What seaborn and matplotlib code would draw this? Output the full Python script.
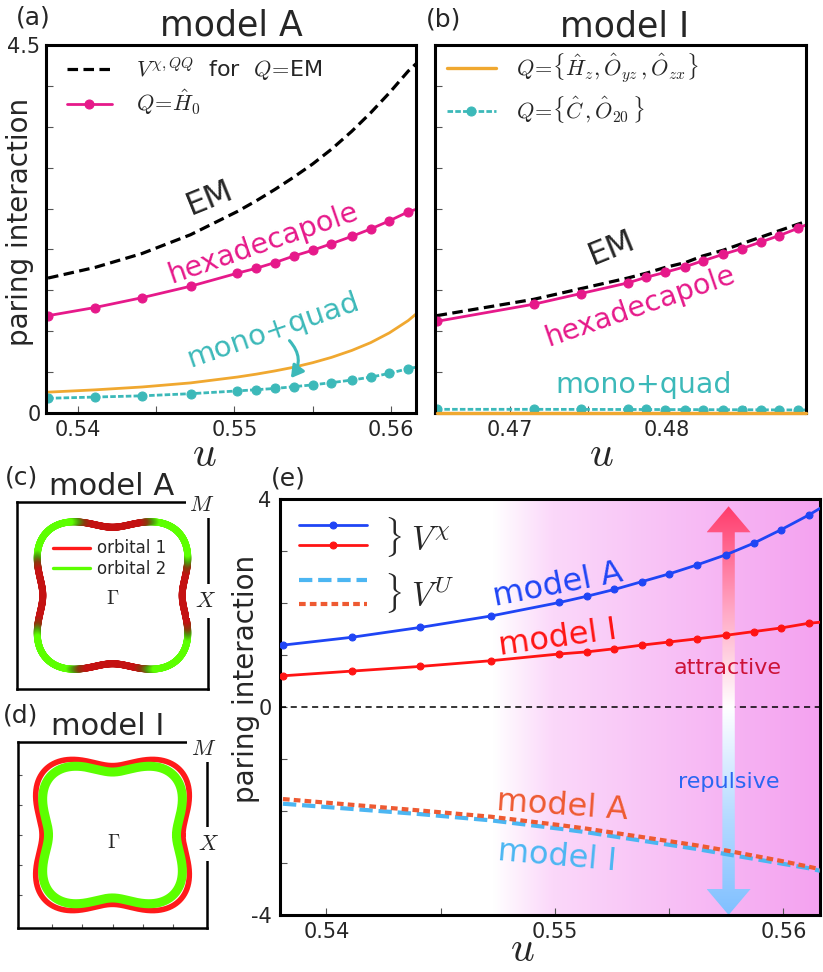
import numpy as np
import matplotlib
matplotlib.use("Agg")
import matplotlib.pyplot as plt
import seaborn as sns
from matplotlib.collections import LineCollection
from matplotlib.colors import LinearSegmentedColormap
from matplotlib.lines import Line2D
from matplotlib.patches import Polygon

# ---------------- data ----------------
# panel (a) / (e) : model A, u grid (last value = right edge of the axes)
u_A = [0.5381, 0.5411, 0.5441, 0.5472, 0.5502, 0.5514, 0.5526, 0.5538,
       0.5550, 0.5562, 0.5575, 0.5587, 0.5599, 0.5611, 0.5616]
em_A = [1.65, 1.78, 1.95, 2.18, 2.465, 2.595, 2.735, 2.885, 3.045, 3.225,
        3.445, 3.67, 3.915, 4.18, 4.27]
hexa_A = [1.19, 1.29, 1.41, 1.55, 1.71, 1.77, 1.84, 1.92, 1.99, 2.07, 2.16,
          2.25, 2.35, 2.46, 2.49]
hz_A = [0.255, 0.283, 0.318, 0.368, 0.44, 0.475, 0.515, 0.56, 0.615, 0.68,
        0.765, 0.86, 0.98, 1.13, 1.21]
monoquad_A = [0.18, 0.195, 0.21, 0.236, 0.27, 0.285, 0.30, 0.322, 0.344,
              0.371, 0.403, 0.438, 0.485, 0.542, 0.56]

# panel (b) : model I
u_I = [0.4653, 0.4715, 0.4745, 0.4775, 0.4787, 0.4799, 0.4812, 0.4823,
       0.4836, 0.4848, 0.4860, 0.4872, 0.4884, 0.4889]
em_I = [1.19, 1.39, 1.52, 1.65, 1.71, 1.78, 1.84, 1.92, 1.99, 2.07, 2.15,
        2.23, 2.31, 2.34]
hexa_I = [1.12, 1.33, 1.46, 1.59, 1.66, 1.72, 1.79, 1.86, 1.94, 2.01, 2.09,
          2.17, 2.26, 2.30]
hz_I = [0.0, 0.0, 0.0, 0.0, 0.0, 0.0, 0.0, 0.0, 0.0, 0.0, 0.0, 0.0, 0.0, 0.0]
monoquad_I = [0.045, 0.045, 0.044, 0.043, 0.043, 0.042, 0.042, 0.041, 0.040,
              0.040, 0.039, 0.038, 0.037, 0.037]

# panel (e)
vchi_A = [1.19, 1.34, 1.53, 1.75, 2.01, 2.13, 2.26, 2.41, 2.56, 2.73, 2.93,
          3.15, 3.41, 3.69, 3.82]
vchi_I = [0.60, 0.69, 0.78, 0.89, 1.02, 1.06, 1.12, 1.19, 1.25, 1.31, 1.38,
          1.45, 1.52, 1.61, 1.63]
vU_A = [-1.77, -1.88, -1.99, -2.11, -2.27, -2.34, -2.42, -2.50, -2.58, -2.66,
        -2.76, -2.86, -2.96, -3.07, -3.12]
vU_I = [-1.86, -1.96, -2.06, -2.18, -2.34, -2.41, -2.49, -2.57, -2.65, -2.73,
        -2.83, -2.92, -3.01, -3.10, -3.15]

xlim_A = (0.53797, 0.5616)
xlim_I = (0.4652, 0.4889)
bg_start = 0.5473      # pink shading starts here
u_arrow = 0.5576       # attractive / repulsive arrow
arrow_top = 3.86

# Fermi surface shapes r(theta) = R0 + R4 cos4t + R8 cos8t (units of half BZ)
fs_A = [0.848, -0.118, 0.0]
fs_I_outer = [0.873, -0.127, 0.0]
fs_I_inner = [0.7935, -0.1165, 0.0]
red_core_deg, green_start_deg = 18, 30

MAGENTA = "#e6198a"
TEAL = "#3cb9b9"
ORANGE = "#f0a830"
BLUE = "#1f45f5"
RED = "#ff1414"
LBLUE = "#4cb6f2"
ORED = "#ee5a32"

# ---------------- figure ----------------
sns.set_theme(style="ticks")
plt.rcParams["font.family"] = ["DejaVu Sans"]
plt.rcParams["mathtext.fontset"] = "cm"
plt.rcParams["axes.linewidth"] = 2.2

W, H = 823, 972
fig = plt.figure(figsize=(W / 100, H / 100), dpi=100)


def rect(l, t, r, b):
    return [l / W, 1 - b / H, (r - l) / W, (b - t) / H]


def ftext(x, y, s, **kw):
    return fig.text(x / W, 1 - y / H, s, **kw)


def style_axes(ax, lw=2.2):
    for sp in ax.spines.values():
        sp.set_visible(True)
        sp.set_color("black")
        sp.set_linewidth(lw)
    ax.tick_params(which="both", direction="in", color="#555555", width=0.8,
                   labelsize=15, top=False, right=False)
    ax.tick_params(which="major", length=5)
    ax.tick_params(which="minor", length=5)
    ax.set_xlabel("")
    ax.set_ylabel("")


ax_a = fig.add_axes(rect(46, 45, 416, 413))
ax_b = fig.add_axes(rect(435, 45, 806, 413))
ax_c = fig.add_axes(rect(17, 502, 208, 689))
ax_d = fig.add_axes(rect(18, 742, 207, 928))
ax_e = fig.add_axes(rect(280, 499, 820, 915))

# ---------------- (a) ----------------
sns.lineplot(x=u_A, y=em_A, ax=ax_a, color="black", lw=2.3,
             label=r"$V^{\chi,QQ}$  for  $Q\!=\!$EM")
ax_a.lines[-1].set_dashes([3.3, 1.7])
sns.lineplot(x=u_A, y=hexa_A, ax=ax_a, color=MAGENTA, lw=2.0, marker="o",
             ms=6.5, markeredgecolor=MAGENTA, markevery=slice(0, 14),
             label=r"$Q\!=\!\hat{H}_0$")
sns.lineplot(x=u_A, y=hz_A, ax=ax_a, color=ORANGE, lw=2.0)
sns.lineplot(x=u_A, y=monoquad_A, ax=ax_a, color=TEAL, lw=2.0, marker="o",
             ms=6.5, markeredgecolor=TEAL, markevery=slice(0, 14))
ax_a.lines[-1].set_dashes([2.0, 0.8])
ax_a.set_xlim(*xlim_A)
ax_a.set_ylim(0, 4.5)
style_axes(ax_a)
ax_a.set_xticks([0.54, 0.55, 0.56])
ax_a.set_xticks([0.545, 0.555], minor=True)
ax_a.set_xticklabels(["0.54", "0.55", "0.56"])
ax_a.set_yticks(np.arange(0, 4.51, 0.5))
ax_a.set_yticklabels(["0"] + [""] * 8 + ["4.5"])
ax_a.tick_params(axis="x", pad=5)
ax_a.tick_params(axis="y", pad=4)
ax_a.legend(loc="upper left", bbox_to_anchor=(0.045, 0.985), frameon=False,
            fontsize=16, handlelength=2.0, handletextpad=1.1,
            labelspacing=0.25, borderpad=0.2, borderaxespad=0)

# ---------------- (b) ----------------
sns.lineplot(x=u_I, y=em_I, ax=ax_b, color="black", lw=2.3)
ax_b.lines[-1].set_dashes([3.3, 1.7])
sns.lineplot(x=u_I, y=hexa_I, ax=ax_b, color=MAGENTA, lw=2.0, marker="o",
             ms=6.5, markeredgecolor=MAGENTA, markevery=slice(0, 13))
sns.lineplot(x=u_I, y=hz_I, ax=ax_b, color=ORANGE, lw=2.4, clip_on=False,
             zorder=5,
             label=r"$Q\!=\!\{\hat{H}_z,\hat{O}_{yz}\,,\hat{O}_{zx}\}$")
sns.lineplot(x=u_I, y=monoquad_I, ax=ax_b, color=TEAL, lw=2.0, marker="o",
             ms=6.5, markeredgecolor=TEAL, markevery=slice(0, 13),
             label=r"$Q\!=\!\{\hat{C}\,,\hat{O}_{20}\,\}$")
ax_b.lines[-1].set_dashes([2.0, 0.8])
ax_b.set_xlim(*xlim_I)
ax_b.set_ylim(0, 4.5)
style_axes(ax_b)
ax_b.set_xticks([0.47, 0.48])
ax_b.set_xticks([0.475, 0.485], minor=True)
ax_b.set_xticklabels(["0.47", "0.48"])
ax_b.set_yticks(np.arange(0, 4.51, 0.5))
ax_b.set_yticklabels([])
ax_b.tick_params(axis="x", pad=5)
ax_b.legend(loc="upper left", bbox_to_anchor=(0.02, 0.995), frameon=False,
            fontsize=16, handlelength=2.2, handletextpad=0.9,
            labelspacing=0.45, borderpad=0.2, borderaxespad=0)

# ---------------- (c) / (d) Fermi surfaces ----------------
theta = np.linspace(0, 2 * np.pi, 1441)


def fs_xy(p):
    r = p[0] + p[1] * np.cos(4 * theta) + p[2] * np.cos(8 * theta)
    return r * np.cos(theta), r * np.sin(theta)


orb_cmap = LinearSegmentedColormap.from_list(
    "orb", [(0, "#5cff00"), (0.35, "#4f9a0c"), (0.65, "#8a3a0c"), (1, "#c41212")])
xc, yc = fs_xy(fs_A)
c2 = np.abs(np.cos(2 * theta))
w = np.clip((c2 - np.cos(np.radians(2 * green_start_deg)))
            / (np.cos(np.radians(2 * red_core_deg))
               - np.cos(np.radians(2 * green_start_deg))), 0, 1)
pts = np.column_stack([xc, yc])
segs = np.stack([pts[:-1], pts[1:]], axis=1)
lc = LineCollection(segs, colors=orb_cmap(0.5 * (w[:-1] + w[1:])),
                    linewidths=5.0, capstyle="round")
ax_c.add_collection(lc)
ax_c.legend(handles=[Line2D([], [], color="#ff1a1a", lw=2.4),
                     Line2D([], [], color="#5cff00", lw=2.4)],
            labels=["orbital 1", "orbital 2"], loc="upper left",
            bbox_to_anchor=(0.19, 0.8), frameon=False, fontsize=12,
            handlelength=2.2, handletextpad=0.45, labelspacing=0.15,
            borderpad=0, borderaxespad=0)

xo, yo = fs_xy(fs_I_outer)
xi, yi = fs_xy(fs_I_inner)
ax_d.plot(xo, yo, color="#ff1a1a", lw=4.0)
ax_d.plot(xi, yi, color="#5cff00", lw=6.5)

for ax in (ax_c, ax_d):
    ax.set_xlim(-1, 1)
    ax.set_ylim(-1, 1)
    style_axes(ax, lw=1.8)
ax_c.set_xticks([])
ax_c.set_yticks([])
ax_d.set_xticks([-0.64, -0.32, 0, 0.32, 0.64])
ax_d.set_yticks([-0.64, -0.32, 0, 0.32, 0.64])
ax_d.tick_params(length=3, labelbottom=False, labelleft=False)

wbox = dict(boxstyle="square,pad=0.15", fc="white", ec="none")
for (mx, my), (xx, xy_) in (((201.7, 505), (205.7, 601)),
                              ((203.3, 749), (208.3, 844))):
    ftext(mx, my, r"$M$", fontsize=16, ha="center", va="center", bbox=wbox,
          zorder=10)
    ftext(xx, xy_, r"$X$", fontsize=16, ha="center", va="center",
          bbox=dict(boxstyle="square,pad=0.3", fc="white", ec="none"),
          zorder=10)
ftext(112.7, 598, r"$\Gamma$", fontsize=14, ha="center", va="center")
ftext(113.3, 843, r"$\Gamma$", fontsize=14, ha="center", va="center")

# ---------------- (e) ----------------
u_left, u_right = xlim_A
bg_cmap = LinearSegmentedColormap.from_list(
    "bg", [(0, "#ffffff"), (0.18, "#fbd8fa"), (1, "#f4a2f0")])
ax_e.imshow(np.linspace(0, 1, 256)[None, :], extent=[bg_start, u_right, -4, 4],
            aspect="auto", cmap=bg_cmap, zorder=0, interpolation="bicubic")
ax_e.axhline(0, color="black", lw=1.1, ls=(0, (4, 3)), zorder=1)

# double arrow with vertical gradient
u_per_px = (u_right - u_left) / 540
v_per_px = 8 / 416
sw, hw, hl = 6.2 * u_per_px, 22 * u_per_px, 26 * v_per_px
ua, yb = u_arrow, -4.0
arrow = Polygon([(ua, arrow_top), (ua + hw, arrow_top - hl), (ua + sw, arrow_top - hl),
                 (ua + sw, yb + hl), (ua + hw, yb + hl), (ua, yb),
                 (ua - hw, yb + hl), (ua - sw, yb + hl), (ua - sw, arrow_top - hl),
                 (ua - hw, arrow_top - hl)], closed=True, fc="none", ec="none")
ax_e.add_patch(arrow)
z0 = 4 / (arrow_top + 4)
arr_cmap = LinearSegmentedColormap.from_list(
    "arr", [(0, "#80c0ff"), (0.25, "#b8dcff"), (z0, "#ffffff"),
            (0.75, "#ffa6c4"), (1, "#ff3c6c")])
im = ax_e.imshow(np.linspace(0, 1, 256)[:, None], origin="lower",
                 extent=[ua - hw, ua + hw, yb, arrow_top], aspect="auto",
                 cmap=arr_cmap, zorder=2)
im.set_clip_path(arrow)

l1 = sns.lineplot(x=u_A, y=vU_I, ax=ax_e, color=LBLUE, lw=3.0, zorder=3).lines[-1]
l1.set_dashes([3.2, 1.4])
l2 = sns.lineplot(x=u_A, y=vU_A, ax=ax_e, color=ORED, lw=3.0, zorder=3).lines[-1]
l2.set_dashes([1.6, 1.0])
l3 = sns.lineplot(x=u_A, y=vchi_A, ax=ax_e, color=BLUE, lw=2.0, marker="o",
                  ms=5, markeredgecolor=BLUE, markevery=slice(0, 14),
                  zorder=4).lines[-1]
l4 = sns.lineplot(x=u_A, y=vchi_I, ax=ax_e, color=RED, lw=2.0, marker="o",
                  ms=5, markeredgecolor=RED, markevery=slice(0, 14),
                  zorder=4).lines[-1]
if ax_e.get_legend() is not None:
    ax_e.get_legend().remove()

ax_e.set_xlim(u_left, u_right)
ax_e.set_ylim(-4, 4)
style_axes(ax_e)
ax_e.set_xticks([0.54, 0.55, 0.56])
ax_e.set_xticks([0.545, 0.555], minor=True)
ax_e.set_xticklabels(["0.54", "0.55", "0.56"])
ax_e.set_yticks(np.arange(-4, 4.1, 1))
ax_e.set_yticklabels(["-4", "", "", "", "0", "", "", "", "4"])
ax_e.tick_params(axis="x", pad=5)
ax_e.tick_params(axis="y", pad=6)

leg1 = ax_e.legend(handles=[l3, l4], labels=[" ", " "], loc="upper left",
                   bbox_to_anchor=(0.035, 0.958), frameon=False, fontsize=12,
                   handlelength=4.1, handletextpad=0, labelspacing=0.16,
                   borderpad=0, borderaxespad=0)
ax_e.add_artist(leg1)
ax_e.legend(handles=[l1, l2], labels=[" ", " "], loc="upper left",
            bbox_to_anchor=(0.035, 0.824), frameon=False, fontsize=12,
            handlelength=4.1, handletextpad=0, labelspacing=0.34,
            borderpad=0, borderaxespad=0)
ftext(384, 537, r"$\}\;V^{\chi}$", fontsize=24, ha="left", va="center")
ftext(384, 593, r"$\}\;V^{U}$", fontsize=24, ha="left", va="center")

# ---------------- annotations ----------------
ftext(33, 17, "(a)", fontsize=18, ha="center", va="center")
ftext(231, 35, "model A", fontsize=25, ha="center", va="baseline")
ftext(444, 20, "(b)", fontsize=18, ha="center", va="center")
ftext(625, 36.5, "model I", fontsize=25, ha="center", va="baseline")
ftext(21.5, 477, "(c)", fontsize=18, ha="center", va="center")
ftext(111.7, 495, "model A", fontsize=22, ha="center", va="baseline")
ftext(21, 716, "(d)", fontsize=18, ha="center", va="center")
ftext(108, 735, "model I", fontsize=22, ha="center", va="baseline")
ftext(288, 478, "(e)", fontsize=18, ha="center", va="center")

ftext(20, 222, "paring interaction", fontsize=20, rotation=90,
      ha="center", va="center")
ftext(246, 679, "paring interaction", fontsize=20, rotation=90,
      ha="center", va="center")
ftext(204, 466, r"$u$", fontsize=30, ha="center", va="baseline")
ftext(601, 466, r"$u$", fontsize=30, ha="center", va="baseline")
ftext(522, 961, r"$u$", fontsize=30, ha="center", va="baseline")

ftext(210, 198, "EM", fontsize=23, rotation=22, ha="center", va="center")
ftext(263, 243, "hexadecapole", fontsize=20.5, rotation=19, color=MAGENTA,
      ha="center", va="center")
ftext(273, 330, "mono+quad", fontsize=21, rotation=19, color=TEAL,
      ha="center", va="center")
ax_a.annotate("", xy=(0.5535, 0.40), xytext=(0.5534, 0.91),
              arrowprops=dict(arrowstyle="-|>,head_width=0.35,head_length=0.6",
                              color=TEAL, lw=2.2,
                              connectionstyle="arc3,rad=-0.45"))
ftext(612, 248, "EM", fontsize=23, rotation=22, ha="center", va="center")
ftext(640, 306, "hexadecapole", fontsize=20.5, rotation=19, color=MAGENTA,
      ha="center", va="center")
ftext(644, 385, "mono+quad", fontsize=20.5, color=TEAL, ha="center",
      va="center")

ftext(558, 585, "model A", fontsize=23, rotation=11, color=BLUE,
      ha="center", va="center")
ftext(558, 638, "model I", fontsize=23, rotation=8, color=RED,
      ha="center", va="center")
ftext(562, 806, "model A", fontsize=23, rotation=-4, color=ORED,
      ha="center", va="center")
ftext(557, 857, "model I", fontsize=23, rotation=-5, color=LBLUE,
      ha="center", va="center")
ftext(728, 668, "attractive", fontsize=16, color="#cc1238", ha="center",
      va="center", zorder=10)
ftext(729, 782, "repulsive", fontsize=16, color="#2a66f2", ha="center",
      va="center", zorder=10)

fig.savefig("out.png", dpi=100)
